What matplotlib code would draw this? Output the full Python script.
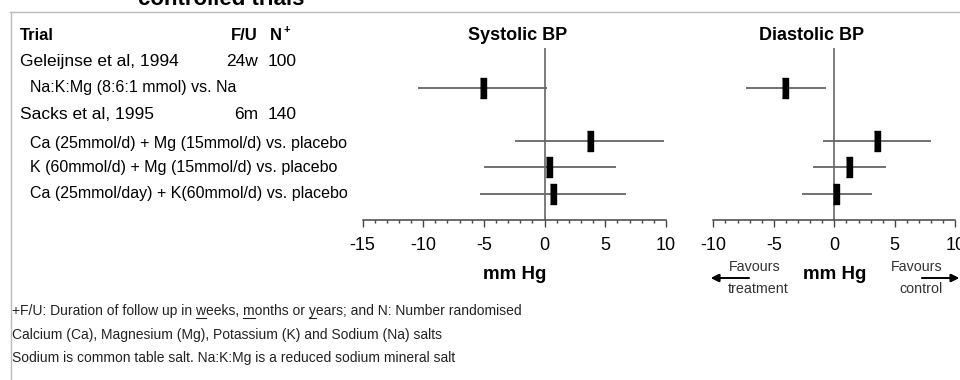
import numpy as np
import matplotlib.pyplot as plt
from matplotlib.lines import Line2D

plt.rcParams['font.family'] = ['Liberation Sans', 'DejaVu Sans']

W, H = 960, 380

# effect estimates (mm Hg), treatment minus control, with 95% CI
rows = [2, 4, 5, 6]
sys_mean = [-5.1, 3.7, 0.4, 0.7]
sys_lo = [-10.4, -2.4, -5.0, -5.3]
sys_hi = [0.2, 9.8, 5.9, 6.7]
dia_mean = [-4.1, 3.5, 1.2, 0.1]
dia_lo = [-7.3, -0.9, -1.8, -2.7]
dia_hi = [-0.7, 8.0, 4.3, 3.1]

trials = ['Geleijnse et al, 1994', 'Sacks et al, 1995']
trial_rows = [1, 3]
follow_up = ['24w', '6m']
n_rand = ['100', '140']
comparisons = ['Na:K:Mg (8:6:1 mmol) vs. Na',
               'Ca (25mmol/d) + Mg (15mmol/d) vs. placebo',
               'K (60mmol/d) + Mg (15mmol/d) vs. placebo',
               'Ca (25mmol/day) + K(60mmol/d) vs. placebo']

footnotes = ['+F/U: Duration of follow up in weeks, months or years; and N: Number randomised',
             'Calcium (Ca), Magnesium (Mg), Potassium (K) and Sodium (Na) salts',
             'Sodium is common table salt. Na:K:Mg is a reduced sodium mineral salt']


def fx(px):
    return px / W


def fy(py):
    return 1 - py / H


fig = plt.figure(figsize=(W / 100, H / 100), dpi=100)

ylim = (7.0, 0.49)
ax_top, ax_bot = 48, 220

# table of trials on the left
tab = fig.add_axes([0, fy(ax_bot), 1, (ax_bot - ax_top) / H])
tab.set_xlim(0, W)
tab.set_ylim(*ylim)
tab.axis('off')
tab.text(20, 0, 'Trial', fontsize=12, fontweight='bold', va='center')
tab.text(258, 0, 'F/U', fontsize=12, fontweight='bold', va='center', ha='right')
tab.text(270, 0, 'N', fontsize=12, fontweight='bold', va='center')
tab.text(283, -0.2, '+', fontsize=8, fontweight='bold', va='center')
for r, name, fu, n in zip(trial_rows, trials, follow_up, n_rand):
    tab.text(20, r, name, fontsize=12.5, va='center')
    tab.text(258, r, fu, fontsize=12.5, va='center', ha='right')
    tab.text(268, r, n, fontsize=12.5, va='center')
for r, label in zip([2, 4.1, 5, 6], comparisons):
    tab.text(30, r, label, fontsize=11.5, va='center')


def forest(ax, mean, lo, hi, xlim, ticks):
    ax.set_xlim(*xlim)
    ax.set_ylim(*ylim)
    ax.axvline(0, color='#666666', lw=1.2, zorder=1)
    ax.hlines(rows, lo, hi, color='#666666', lw=1.3, zorder=2)
    box = [(-0.35, -1), (0.35, -1), (0.35, 1), (-0.35, 1)]
    ax.plot(mean, rows, ls='none', marker=box, ms=14, color='black', zorder=3)
    for s in ['left', 'right', 'top']:
        ax.spines[s].set_visible(False)
    ax.spines['bottom'].set_color('#444444')
    ax.spines['bottom'].set_linewidth(1.1)
    ax.set_yticks([])
    ax.set_xticks(ticks)
    ax.set_xticklabels([str(t) for t in ticks])
    ax.set_xticks(np.arange(xlim[0], xlim[1] + 1, 1), minor=True)
    ax.tick_params(axis='x', which='major', length=5, width=1, color='#444444',
                   labelsize=13, pad=7)
    ax.tick_params(axis='x', which='minor', length=2.5, width=1, color='#444444')
    ax.set_xlabel('mm Hg', fontsize=13.5, fontweight='bold', labelpad=9)
    return ax


ax1 = fig.add_axes([fx(362.5), fy(ax_bot), fx(666 - 362.5), (ax_bot - ax_top) / H])
forest(ax1, sys_mean, sys_lo, sys_hi, (-15, 10), [-15, -10, -5, 0, 5, 10])
ax2 = fig.add_axes([fx(713.3), fy(ax_bot), fx(955.3 - 713.3), (ax_bot - ax_top) / H])
forest(ax2, dia_mean, dia_lo, dia_hi, (-10, 10), [-10, -5, 0, 5, 10])

fig.text(fx(518), fy(36), 'Systolic BP', fontsize=13, fontweight='bold', ha='center', va='center')
fig.text(fx(812), fy(36), 'Diastolic BP', fontsize=13, fontweight='bold', ha='center', va='center')

# direction of benefit under the diastolic axis
fav = dict(fontsize=10.3, color='#333333', ha='center', va='center')
fig.text(fx(755), fy(267), 'Favours', **fav)
fig.text(fx(758), fy(289), 'treatment', **fav)
fig.text(fx(917), fy(267), 'Favours', **fav)
fig.text(fx(921), fy(289), 'control', **fav)
arrow = dict(arrowstyle='-|>', mutation_scale=12, lw=1.2, color='black', shrinkA=0, shrinkB=0)
fig.add_artist(plt.annotate('', xy=(fx(711), fy(278)), xytext=(fx(749), fy(278)),
                            xycoords='figure fraction', textcoords='figure fraction',
                            arrowprops=arrow))
fig.add_artist(plt.annotate('', xy=(fx(959), fy(278)), xytext=(fx(922), fy(278)),
                            xycoords='figure fraction', textcoords='figure fraction',
                            arrowprops=arrow))

# footnotes
foot_size = 10
foot_y = [311, 335, 358]
for y, line in zip(foot_y, footnotes):
    fig.text(fx(12), fy(y), line, fontsize=foot_size, color='#222222', va='center')

# underline the w, m, y of weeks / months / years
fig.canvas.draw()
rend = fig.canvas.get_renderer()


def text_width(s):
    t = fig.text(0, 0, s, fontsize=foot_size)
    w = t.get_window_extent(rend).width
    t.remove()
    return w


first = footnotes[0]
for word in ['weeks', 'months', 'years']:
    i = first.index(word)
    end = text_width(first[:i + 1])
    start = end - text_width(first[i])
    fig.add_artist(Line2D([fx(12 + start), fx(12 + end)], [fy(318), fy(318)],
                          color='#222222', lw=0.8))

# frame and the clipped heading above it
fig.add_artist(Line2D([fx(10), fx(W)], [fy(11.5), fy(11.5)], color='#bbbbbb', lw=1))
fig.add_artist(Line2D([fx(10.5), fx(10.5)], [fy(11.5), 0], color='#bbbbbb', lw=1))
fig.text(fx(138), fy(5), 'controlled trials', fontsize=16, fontweight='bold', va='baseline')

fig.savefig('out.png', dpi=100)
